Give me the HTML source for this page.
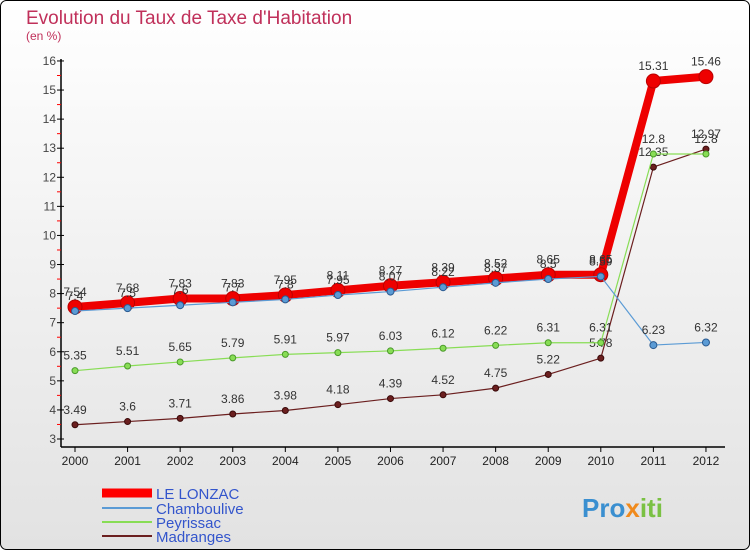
<!DOCTYPE html>
<html><head><meta charset="utf-8"><style>
body{margin:0;width:750px;height:550px;overflow:hidden;font-family:"Liberation Sans",sans-serif}
</style></head><body>
<svg width="750" height="550" xmlns="http://www.w3.org/2000/svg">
<defs><linearGradient id="bg" x1="0" y1="0" x2="0" y2="1"><stop offset="0" stop-color="#ffffff"/><stop offset="1" stop-color="#e2e2e2"/></linearGradient></defs>
<rect x="0.5" y="0.5" width="749" height="549" rx="6" fill="url(#bg)" stroke="#000"/>
<text x="26" y="24" font-size="19" fill="#c0305a">Evolution du Taux de Taxe d'Habitation</text>
<text x="26" y="40" font-size="12" fill="#c0305a">(en %)</text>
<g id="axes"></g><g id="series"></g>
<g>
<line x1="102" y1="493" x2="152" y2="493" stroke="#f00" stroke-width="9"/>
<text x="156" y="499" font-size="15" fill="#3355cc">LE LONZAC</text>
<line x1="102" y1="508" x2="152" y2="508" stroke="#5b9bd5" stroke-width="2"/>
<text x="156" y="514" font-size="15" fill="#3355cc">Chamboulive</text>
<line x1="102" y1="522" x2="152" y2="522" stroke="#88dd55" stroke-width="2"/>
<text x="156" y="528" font-size="15" fill="#3355cc">Peyrissac</text>
<line x1="102" y1="536" x2="152" y2="536" stroke="#6b1f1f" stroke-width="2"/>
<text x="156" y="542" font-size="15" fill="#3355cc">Madranges</text>
</g>
<text x="582" y="517" font-size="26" font-weight="bold"><tspan fill="#3a8fd0">Pro</tspan><tspan fill="#f08a1c">x</tspan><tspan fill="#7ac143">iti</tspan></text>
</svg>
<script>
const years=[2000,2001,2002,2003,2004,2005,2006,2007,2008,2009,2010,2011,2012];
const lonzac=[7.54,7.68,7.83,7.83,7.95,8.11,8.27,8.39,8.52,8.65,8.65,15.31,15.46];
const chamboulive=[7.4,7.5,7.6,7.7,7.8,7.95,8.07,8.22,8.37,8.5,8.59,6.23,6.32];
const peyrissac=[5.35,5.51,5.65,5.79,5.91,5.97,6.03,6.12,6.22,6.31,6.31,12.8,12.8];
const madranges=[3.49,3.6,3.71,3.86,3.98,4.18,4.39,4.52,4.75,5.22,5.78,12.35,12.97];
const yTicks=[3,4,5,6,7,8,9,10,11,12,13,14,15,16];
const NS="http://www.w3.org/2000/svg";
const X=i=>75+i*52.58, Y=v=>439-(v-3)*29.08;
function mk(t,a,p){const e=document.createElementNS(NS,t);for(const k in a)e.setAttribute(k,a[k]);p.appendChild(e);return e;}
const ax=document.getElementById('axes'), sg=document.getElementById('series');
let l=mk('line',{x1:61,y1:59,x2:61,y2:447,stroke:'#000','stroke-width':1.5},ax);


l=mk('line',{x1:61,y1:447,x2:725,y2:447,stroke:'#000','stroke-width':1.5},ax);


yTicks.forEach(v=>{mk('line',{x1:57,y1:Y(v),x2:64,y2:Y(v),stroke:'#000'},ax);
 if(v<16)mk('line',{x1:57,y1:Y(v+0.5),x2:61,y2:Y(v+0.5),stroke:'#f00'},ax);
 const t=mk('text',{x:56,y:Y(v)+4,'font-size':12,'text-anchor':'end',fill:'#444'},ax);t.textContent=v;
 
 });
years.forEach((y,i)=>{mk('line',{x1:X(i),y1:447,x2:X(i),y2:452,stroke:'#000'},ax);
 const t=mk('text',{x:X(i),y:465,'font-size':12,'text-anchor':'middle',fill:'#222'},ax);t.textContent=y;
 
 });
function series(d,c,w,r,name,dark){
 const p=mk('polyline',{points:d.map((v,i)=>X(i)+','+Y(v)).join(' '),fill:'none',stroke:c,'stroke-width':w,'stroke-linejoin':'round'},sg);
 
 
 d.forEach((v,i)=>{const m=mk('circle',{cx:X(i),cy:Y(v),r:r,fill:c,stroke:dark,'stroke-width':1},sg);
  
  
  const t=mk('text',{x:X(i),y:Y(v)-11,'font-size':12,'text-anchor':'middle',fill:'#333'},sg);t.textContent=v;
  
  });
}
series(madranges,'#6b1f1f',1.2,3,'madranges','#3a0a0a');
series(peyrissac,'#88dd55',1.2,3,'peyrissac','#4a9a2a');
series(lonzac,'#ee0000',8,7,'lonzac','#bb0000');
series(chamboulive,'#5b9bd5',1.2,3.5,'chamboulive','#2a5a90');
</script>
</body></html>
